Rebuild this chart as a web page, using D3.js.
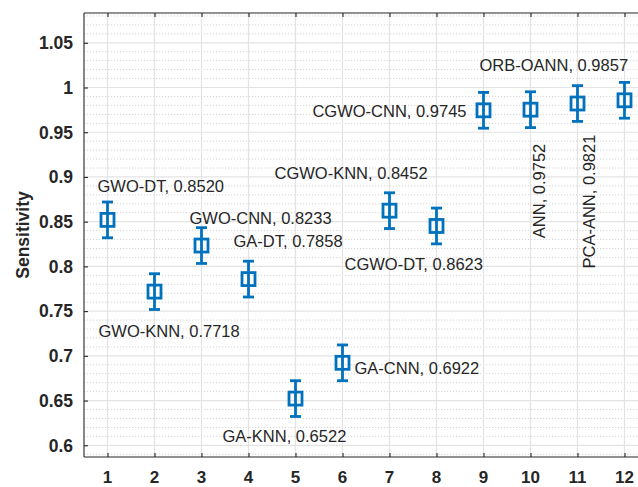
<!DOCTYPE html>
<html>
<head>
<meta charset="utf-8">
<script src="https://cdn.jsdelivr.net/npm/d3@7"></script>
<style>
  html, body { margin: 0; padding: 0; background: #fff; }
  text { font-family: "Liberation Sans", Arial, Helvetica, sans-serif; }
</style>
</head>
<body>
<svg id="chart" width="638" height="487"></svg>
<script>
// data
const positions = [1, 2, 3, 4, 5, 6, 7, 8, 9, 10, 11, 12];
const sensitivity = [0.8520, 0.7718, 0.8233, 0.7858, 0.6522, 0.6922, 0.8623, 0.8452, 0.9745, 0.9752, 0.9821, 0.9857];
const errors = [0.02, 0.02, 0.02, 0.02, 0.02, 0.02, 0.02, 0.02, 0.02, 0.02, 0.02, 0.02];
const labels = ['GWO-DT, 0.8520', 'GWO-KNN, 0.7718', 'GWO-CNN, 0.8233', 'GA-DT, 0.7858',
    'GA-KNN, 0.6522', 'GA-CNN, 0.6922', 'CGWO-KNN, 0.8452', 'CGWO-DT, 0.8623',
    'CGWO-CNN, 0.9745', 'ANN, 0.9752', 'PCA-ANN, 0.9821', 'ORB-OANN, 0.9857'];
const xTicks = [1, 2, 3, 4, 5, 6, 7, 8, 9, 10, 11, 12];
const yTicks = [0.6, 0.65, 0.7, 0.75, 0.8, 0.85, 0.9, 0.95, 1, 1.05];

// label offsets from the marker (px), anchor and rotation
const labelLayout = [
    { dx: -10, dy: -28, anchor: 'start', rot: 0 },
    { dx: -56, dy: 45, anchor: 'start', rot: 0 },
    { dx: -12, dy: -22, anchor: 'start', rot: 0 },
    { dx: -15, dy: -32, anchor: 'start', rot: 0 },
    { dx: -73, dy: 43, anchor: 'start', rot: 0 },
    { dx: 12, dy: 11.5, anchor: 'start', rot: 0 },
    { dx: -115, dy: -32, anchor: 'start', rot: 0 },
    { dx: -92, dy: 44, anchor: 'start', rot: 0 },
    { dx: -17, dy: 7, anchor: 'end', rot: 0 },
    { dx: 14, dy: 128.5, anchor: 'start', rot: -90 },
    { dx: 17, dy: 165, anchor: 'start', rot: -90 },
    { dx: -145, dy: -29, anchor: 'start', rot: 0 }
];

const width = 638, height = 487;
const margin = { top: 13, left: 84, bottom: 457, right: 648 };
const blue = '#0072BD';
const axisColor = '#262626';

const svg = d3.select('#chart');

const x = d3.scaleLinear()
    .domain([0.5, 12.5])
    .range([margin.left, margin.right]);

const y = d3.scaleLinear()
    .domain([0.5869, 1.0833])
    .range([margin.bottom, margin.top]);

svg.append('rect').attr('width', width).attr('height', height).attr('fill', '#fff');

// minor grid (every 0.01)
const minor = d3.range(59, 109).map(d => d / 100).filter(d => Math.round(d * 100) % 5 != 0);
svg.append('g').selectAll('line')
    .data(minor)
    .join('line')
    .attr('x1', margin.left).attr('x2', margin.right)
    .attr('y1', d => y(d)).attr('y2', d => y(d))
    .attr('stroke', '#d4d4d4')
    .attr('stroke-width', 1)
    .attr('stroke-dasharray', '1.2,1.8');

// major grid
svg.append('g').selectAll('line')
    .data(yTicks)
    .join('line')
    .attr('x1', margin.left).attr('x2', margin.right)
    .attr('y1', d => y(d)).attr('y2', d => y(d))
    .attr('stroke', '#e3e3e3')
    .attr('stroke-width', 1.2);

svg.append('g').selectAll('line')
    .data(xTicks)
    .join('line')
    .attr('x1', d => x(d)).attr('x2', d => x(d))
    .attr('y1', margin.top).attr('y2', margin.bottom)
    .attr('stroke', '#e3e3e3')
    .attr('stroke-width', 1.2);

// axes (ticks inside)
const axisLeft = svg.append('g')
    .attr('transform', 'translate(' + margin.left + ',0)')
    .call(d3.axisRight(y).tickValues(yTicks).tickSize(4).tickFormat(''));
const axisBottom = svg.append('g')
    .attr('transform', 'translate(0,' + margin.bottom + ')')
    .call(d3.axisTop(x).tickValues(xTicks).tickSize(4).tickFormat(''));
const axisTop = svg.append('g')
    .attr('transform', 'translate(0,' + margin.top + ')')
    .call(d3.axisBottom(x).tickValues(xTicks).tickSize(4).tickFormat(''));
[axisLeft, axisBottom, axisTop].forEach(g => {
    g.select('.domain').remove();
    g.selectAll('.tick line').attr('stroke', axisColor).attr('stroke-width', 1.1);
});
// box lines
svg.append('line').attr('x1', margin.left).attr('x2', margin.left)
    .attr('y1', margin.top).attr('y2', margin.bottom)
    .attr('stroke', axisColor).attr('stroke-width', 1.1);
svg.append('line').attr('x1', margin.left).attr('x2', margin.right)
    .attr('y1', margin.bottom).attr('y2', margin.bottom)
    .attr('stroke', axisColor).attr('stroke-width', 1.1);
svg.append('line').attr('x1', margin.left).attr('x2', margin.right)
    .attr('y1', margin.top).attr('y2', margin.top)
    .attr('stroke', axisColor).attr('stroke-width', 1.1);

// tick labels
svg.append('g').selectAll('text')
    .data(yTicks)
    .join('text')
    .attr('x', margin.left - 11)
    .attr('y', d => y(d))
    .attr('dy', '0.36em')
    .attr('text-anchor', 'end')
    .attr('font-size', 17.5)
    .attr('font-weight', 'bold')
    .attr('fill', axisColor)
    .text(d => String(+d.toFixed(2)));

svg.append('g').selectAll('text')
    .data(xTicks)
    .join('text')
    .attr('x', d => x(d))
    .attr('y', 483)
    .attr('text-anchor', 'middle')
    .attr('font-size', 17)
    .attr('font-weight', 'bold')
    .attr('fill', axisColor)
    .text(d => d);

svg.append('text')
    .attr('transform', 'translate(29,' + ((margin.top + margin.bottom) / 2) + ') rotate(-90)')
    .attr('text-anchor', 'middle')
    .attr('font-size', 17.5)
    .attr('font-weight', 'bold')
    .attr('fill', axisColor)
    .text('Sensitivity');

// error bars with square markers
const points = positions.map((p, i) => ({ p: p, v: sensitivity[i], e: errors[i], label: labels[i], lay: labelLayout[i] }));
const capW = 11, sq = 13;

const marks = svg.append('g').selectAll('g')
    .data(points)
    .join('g');

marks.append('line')
    .attr('x1', d => x(d.p)).attr('x2', d => x(d.p))
    .attr('y1', d => y(d.v - d.e)).attr('y2', d => y(d.v + d.e))
    .attr('stroke', blue).attr('stroke-width', 2.8);
marks.append('line')
    .attr('x1', d => x(d.p) - capW / 2).attr('x2', d => x(d.p) + capW / 2)
    .attr('y1', d => y(d.v + d.e)).attr('y2', d => y(d.v + d.e))
    .attr('stroke', blue).attr('stroke-width', 2.8);
marks.append('line')
    .attr('x1', d => x(d.p) - capW / 2).attr('x2', d => x(d.p) + capW / 2)
    .attr('y1', d => y(d.v - d.e)).attr('y2', d => y(d.v - d.e))
    .attr('stroke', blue).attr('stroke-width', 2.8);
marks.append('rect')
    .attr('x', d => x(d.p) - sq / 2).attr('y', d => y(d.v) - sq / 2)
    .attr('width', sq).attr('height', sq)
    .attr('fill', 'none')
    .attr('stroke', blue).attr('stroke-width', 2.8);

// annotations
marks.append('text')
    .attr('transform', d => 'translate(' + (x(d.p) + d.lay.dx) + ',' + (y(d.v) + d.lay.dy) + ') rotate(' + d.lay.rot + ')')
    .attr('text-anchor', d => d.lay.anchor)
    .attr('font-size', 16.5)
    .attr('fill', axisColor)
    .text(d => d.label);
</script>
</body>
</html>
